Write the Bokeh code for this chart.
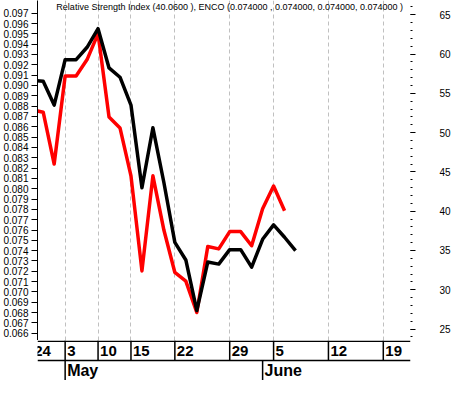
from bokeh.plotting import figure
from bokeh.models import Range1d, LinearAxis, FixedTicker, PrintfTickFormatter, Label, Span
from bokeh.layouts import column
from bokeh.embed import file_html
from bokeh.resources import INLINE
from bokeh.core.properties import value

# ---- data (trading-day index on x) ----
day_index = [0, 1, 2, 3, 4, 5, 6, 7, 8, 9, 10, 11, 12, 13, 14, 15, 16, 17, 18, 19, 20, 21, 22, 23, 24]
price = [0.0905, 0.0904, 0.0881, 0.0925, 0.0925, 0.0937, 0.0955, 0.0917, 0.0908, 0.0881,
         0.0801, 0.0859, 0.0806, 0.0748, 0.0731, 0.0682, 0.0729, 0.0727, 0.0741, 0.0741,
         0.0724, 0.0751, 0.0765, 0.0753, 0.0740]
rsi = [52.9, 52.6, 46.0, 57.2, 57.2, 59.3, 62.6, 52.0, 50.6, 44.5,
       32.4, 44.5, 37.6, 32.2, 31.1, 27.1, 35.5, 35.2, 37.4, 37.4,
       35.6, 40.3, 43.2, 40.06]
tick_idx = [0, 3, 6, 9, 13, 18, 22, 27, 32]
tick_labels = ["24", "3", "10", "15", "22", "29", "5", "12", "19"]
month_idx = [3, 21]
month_labels = ["May", "June"]
price_ticks = [0.066, 0.067, 0.068, 0.069, 0.070, 0.071, 0.072, 0.073, 0.074, 0.075, 0.076,
               0.077, 0.078, 0.079, 0.080, 0.081, 0.082, 0.083, 0.084, 0.085, 0.086, 0.087,
               0.088, 0.089, 0.090, 0.091, 0.092, 0.093, 0.094, 0.095, 0.096, 0.097]
rsi_ticks = [25, 30, 35, 40, 45, 50, 55, 60, 65]
rsi_minor = [24, 25, 26, 27, 28, 29, 30, 31, 32, 33, 34, 35, 36, 37, 38, 39, 40, 41, 42, 43, 44,
             45, 46, 47, 48, 49, 50, 51, 52, 53, 54, 55, 56, 57, 58, 59, 60, 61, 62, 63, 64, 65, 66]
title_text = "Relative Strength Index (40.0600 ), ENCO (0.074000 , 0.074000, 0.074000, 0.074000 )"

W = 453
FONT = "Liberation Sans"


def make_fig(height, visible):
    f = figure(width=W, height=height, x_range=Range1d(0.48, 34.48),
               y_range=Range1d(0.0653, 0.09823), x_axis_location=None, y_axis_location="left",
               output_backend="svg", toolbar_location=None, min_border_left=10,
               min_border_right=0, min_border_top=0, min_border_bottom=0)
    f.extra_y_ranges = {"rsi": Range1d(23.54, 66.82), "rows": Range1d(0, 40)}
    f.outline_line_color = None
    f.ygrid.visible = False
    a = f.yaxis[0]
    a.ticker = FixedTicker(ticks=price_ticks, minor_ticks=[])
    a.formatter = PrintfTickFormatter(format="%.3f")
    a.major_tick_out = 6
    a.major_tick_in = 0
    a.minor_tick_line_color = None
    a.major_label_standoff = 3
    a.major_label_text_font = FONT
    a.major_label_text_font_size = "10px"
    a.major_label_text_color = "black"
    a.axis_line_color = "black"
    r = LinearAxis(y_range_name="rsi", ticker=FixedTicker(ticks=rsi_ticks, minor_ticks=rsi_minor),
                   axis_line_color=None, major_tick_out=5, major_tick_in=0,
                   minor_tick_out=2, minor_tick_in=0, major_label_standoff=24,
                   major_label_text_font=FONT, major_label_text_font_size="10px",
                   major_label_text_color="black")
    f.add_layout(r, "right")
    if not visible:
        for ax_ in (a, r):
            ax_.axis_line_color = None
            ax_.major_tick_line_color = None
            ax_.minor_tick_line_color = None
            ax_.major_label_text_alpha = 0
    return f


p = make_fig(340, True)
p.xgrid.ticker = FixedTicker(ticks=tick_idx)
p.xgrid.grid_line_color = "#c0c0c0"
p.xgrid.grid_line_dash = "4 3"
p.xgrid.grid_line_width = 1

p.line(day_index[:len(rsi)], rsi, y_range_name="rsi", line_color="#ff0000", line_width=3.5,
       line_join="round")
p.line(day_index, price, line_color="black", line_width=3.5, line_join="round")

p.add_layout(Label(x=2.2, y=0.0976, text=title_text, text_font=FONT, text_font_size="9px",
                   text_baseline="middle", text_color="black"))

q = make_fig(40, False)
q.x_range = p.x_range
q.xgrid.visible = False
q.add_layout(Span(location=39.3, dimension="width", line_color="black", line_width=1.5,
                  y_range_name="rows"))
q.add_layout(Span(location=20, dimension="width", line_color="black", line_width=1.5,
                  y_range_name="rows"))
q.segment(x0=tick_idx, x1=tick_idx, y0=20, y1=40, line_color="black", line_width=1.5,
          y_range_name="rows")
q.segment(x0=month_idx, x1=month_idx, y0=0, y1=20, line_color="black", line_width=1.5,
          y_range_name="rows")
q.text(x=tick_idx, y=30, text=tick_labels, text_font=value(FONT), text_font_style="bold",
       text_font_size="15px", text_align="left", text_baseline="middle", x_offset=2,
       text_color="black", y_range_name="rows")
q.text(x=month_idx, y=10.5, text=month_labels, text_font=value(FONT), text_font_style="bold",
       text_font_size="16px", text_align="left", text_baseline="middle", x_offset=2,
       text_color="black", y_range_name="rows")

layout = column(p, q, spacing=0)
open("out.html", "w").write(file_html(layout, INLINE))
